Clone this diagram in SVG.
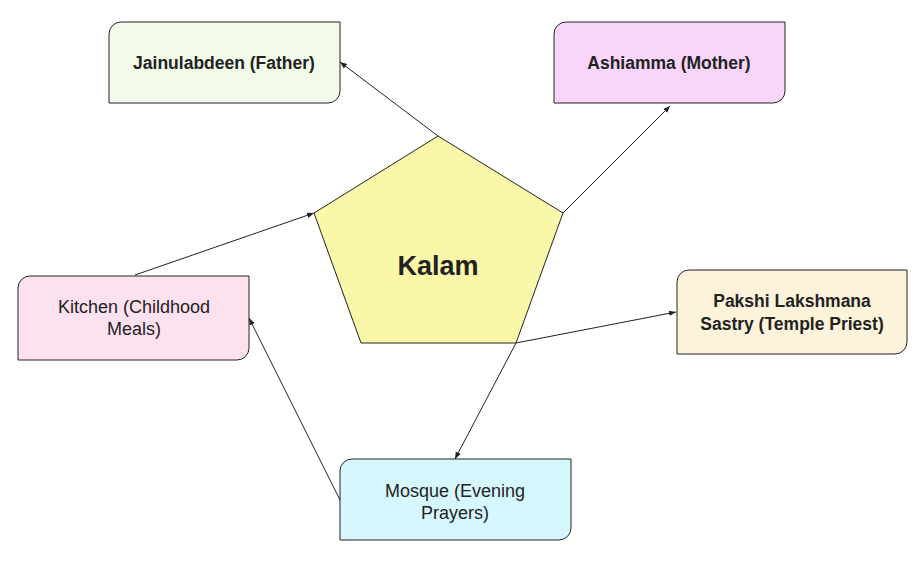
<svg xmlns="http://www.w3.org/2000/svg" width="924" height="568" viewBox="0 0 924 568">
<defs>
<marker id="ah" viewBox="0 0 10 10" refX="10" refY="5" markerWidth="7" markerHeight="7" orient="auto-start-reverse" markerUnits="userSpaceOnUse"><path d="M0,1 L10,5 L0,9 Z" fill="#222"/></marker>
<style>
.box{stroke:#222;stroke-width:1}
.t{font-family:"Liberation Sans",Arial,sans-serif;font-size:18px;fill:#222;text-anchor:middle}
.b{font-weight:bold;font-size:17.5px}
.c{stroke:#222;stroke-width:1;fill:none;marker-end:url(#ah)}
</style>
</defs>
<rect width="924" height="568" fill="#fff"/>
<g id="kalam"><polygon class="box" points="438,136 563,213 516,343 361,343 314,213" fill="#fbf7a9"/><text class="t b" x="438" y="275" style="font-size:27px">Kalam</text></g>
<g id="father"><path class="box" fill="#f2fbea" d="M121,22 H340 V91 A12,12 0 0 1 328,103 H109 V34 A12,12 0 0 1 121,22 Z"/><text class="t b" x="224" y="69">Jainulabdeen (Father)</text></g>
<g id="mother"><path class="box" fill="#f9d6f9" d="M566,22 H785 V91 A12,12 0 0 1 773,103 H554 V34 A12,12 0 0 1 566,22 Z"/><text class="t b" x="669" y="69">Ashiamma (Mother)</text></g>
<g id="kitchen"><path class="box" fill="#fde1ee" d="M30,276 H249 V348 A12,12 0 0 1 237,360 H18 V288 A12,12 0 0 1 30,276 Z"/><text class="t" x="134" y="313">Kitchen (Childhood</text><text class="t" x="134" y="335">Meals)</text></g>
<g id="priest"><path class="box" fill="#fdf3da" d="M689,270 H907 V342 A12,12 0 0 1 895,354 H677 V282 A12,12 0 0 1 689,270 Z"/><text class="t b" x="792" y="307">Pakshi Lakshmana</text><text class="t b" x="792" y="330">Sastry (Temple Priest)</text></g>
<g id="mosque"><path class="box" fill="#d6f7fd" d="M352,459 H571 V528 A12,12 0 0 1 559,540 H340 V471 A12,12 0 0 1 352,459 Z"/><text class="t" x="455" y="497">Mosque (Evening</text><text class="t" x="455" y="519">Prayers)</text></g>
<g id="connectors">
<line class="c" x1="438" y1="136" x2="340" y2="62"/>
<line class="c" x1="563" y1="213" x2="670" y2="106"/>
<line class="c" x1="135" y1="275" x2="314" y2="213"/>
<line class="c" x1="516" y1="343" x2="676" y2="312"/>
<line class="c" x1="516" y1="343" x2="455" y2="459"/>
<line class="c" x1="340" y1="500" x2="249" y2="318"/>
</g>
</svg>
